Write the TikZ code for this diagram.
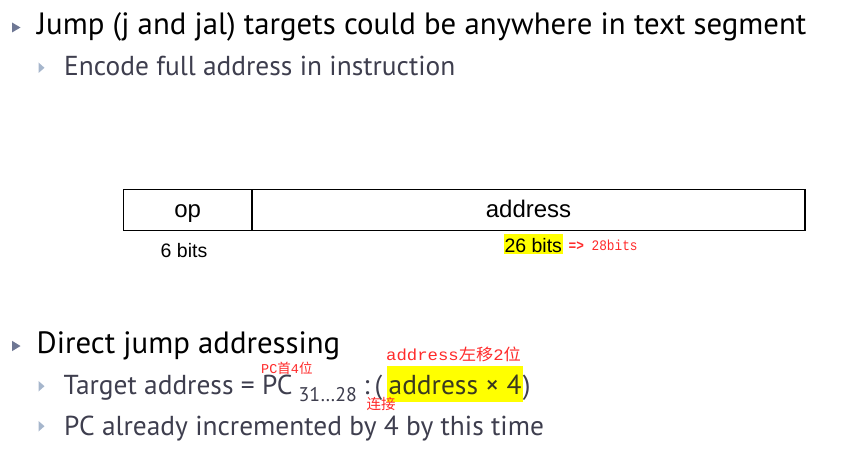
\documentclass[tikz,border=0pt]{standalone}
\usepackage{fontspec}
\setmainfont{PT Sans}
\newfontfamily\arialf{Liberation Sans}
\newfontfamily\monof{Liberation Mono}
\newfontfamily\cjkf{Noto Sans CJK SC}
\definecolor{subgray}{HTML}{3E3E4E}
\definecolor{hltext}{HTML}{3A3A20}
\definecolor{bulletdark}{HTML}{6E7794}
\definecolor{bulletlight}{HTML}{A6B6CC}
\definecolor{notered}{HTML}{FF2A2A}
\definecolor{hlyellow}{HTML}{FFFF00}
\begin{document}
\begin{tikzpicture}[x=1pt,y=-1pt,
  lvlone/.style={anchor=base west, inner sep=0, font=\fontsize{30.8}{36}\selectfont, text=black},
  lvltwo/.style={anchor=base west, inner sep=0, font=\fontsize{27.4}{32}\selectfont, text=subgray},
  bulone/.style={fill=bulletdark},
  bultwo/.style={fill=bulletlight},
  field/.style={draw=black, line width=1.5pt, outer sep=0, minimum height=41, inner sep=0, text height=18, text depth=3, font=\arialf\fontsize{24}{28}\selectfont},
  bitlabel/.style={anchor=base west, inner sep=0, font=\arialf\fontsize{19.5}{23}\selectfont},
  note/.style={anchor=base west, inner sep=0, text=notered},
  hl/.style={fill=hlyellow}
]
\useasboundingbox (0,0) rectangle (864,454);

% ---- first block
\fill[bulone] (12,22.5) -- (12,32.5) -- (20.5,27.5) -- cycle;
\node[lvlone] (jump) at (37,35) {Jump (j and jal) targets could be anywhere in text segment};
\fill[bultwo] (38.5,62.5) -- (38.5,73) -- (44.5,67.8) -- cycle;
\node[lvltwo] (encode) at (64,76) {Encode full address in instruction};

% ---- instruction format
\node[field, minimum width=128.5] (op) at (187.75,210) {op};
\node[field, minimum width=553, anchor=west] (addr) at (op.east) {address};
\node[bitlabel] (sixbits) at (160.5,257.3) {6 bits};
\node[bitlabel, hl, text height=17.8, text depth=2.2, inner xsep=0.8, inner ysep=0] (twentysix) at (503.5,252.3) {26 bits};
\node[note] (twentyeight) at (568.5,251) {\scalebox{0.88}[1]{\monof\fontsize{14.5}{17}\selectfont\textbf{=>} 28bits}};

% ---- second block
\fill[bulone] (12,340.8) -- (12,351.2) -- (20.5,346) -- cycle;
\node[lvlone] (direct) at (36.5,353.3) {Direct jump addressing};

\fill[bultwo] (38.5,381) -- (38.5,391.5) -- (44.5,386.2) -- cycle;
\node[lvltwo] (target) at (63.5,394) {Target address = PC};
\node[lvltwo, font=\fontsize{19.8}{23}\selectfont] (subidx) at (298.5,401.5) {31…28};
\node[lvltwo] (colon) at (363.5,394) {:};
\node[lvltwo] (lparen) at (374.5,394) {(};
\node[lvltwo, hl, text=hltext, minimum width=135.7, text height=28, text depth=7.7, inner ysep=0] (times) at (387,394) {address × 4};
\node[lvltwo] (rparen) at (522.7,394) {)};

\fill[bultwo] (38.5,421) -- (38.5,431.5) -- (44.5,426.2) -- cycle;
\node[lvltwo] (already) at (64,435) {PC already incremented by 4 by this time};

% ---- red notes
\node[note] (shift) at (386,360) {\scalebox{1.08}[1]{\monof\fontsize{16}{19}\selectfont address\cjkf 左移\monof 2\cjkf 位}};
\node[note] (pcfirst) at (261,373.5) {\monof\fontsize{13.5}{15}\selectfont PC\cjkf 首\monof 4\cjkf 位};
\node[note] (concat) at (366.5,409.5) {\cjkf\fontsize{14.5}{17}\selectfont 连接};
\end{tikzpicture}
\end{document}
